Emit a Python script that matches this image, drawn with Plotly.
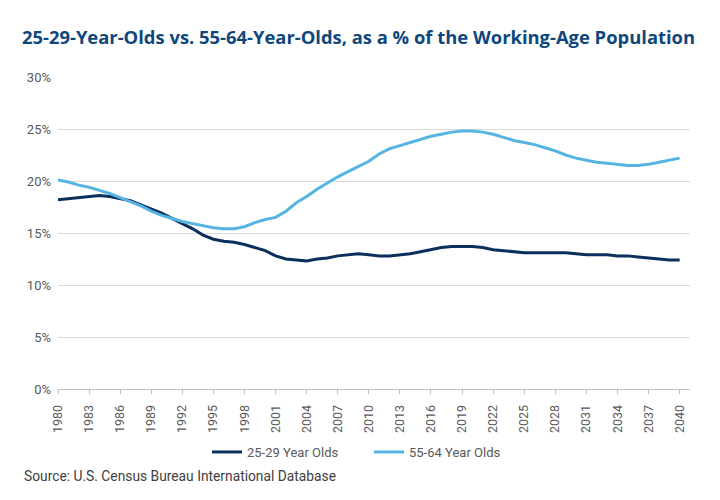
import plotly.graph_objects as go

years = list(range(1980, 2041))
age_25_29 = [18.2, 18.3, 18.4, 18.5, 18.6, 18.5, 18.3, 18.1, 17.7, 17.3,
             16.9, 16.4, 15.9, 15.4, 14.8, 14.4, 14.2, 14.1, 13.9, 13.6,
             13.3, 12.8, 12.5, 12.4, 12.3, 12.5, 12.6, 12.8, 12.9, 13.0,
             12.9, 12.8, 12.8, 12.9, 13.0, 13.2, 13.4, 13.6, 13.7, 13.7,
             13.7, 13.6, 13.4, 13.3, 13.2, 13.1, 13.1, 13.1, 13.1, 13.1,
             13.0, 12.9, 12.9, 12.9, 12.8, 12.8, 12.7, 12.6, 12.5, 12.4, 12.4]
age_55_64 = [20.1, 19.9, 19.6, 19.4, 19.1, 18.8, 18.4, 18.0, 17.6, 17.1,
             16.7, 16.4, 16.1, 15.9, 15.7, 15.5, 15.4, 15.4, 15.6, 16.0,
             16.3, 16.5, 17.1, 17.9, 18.5, 19.2, 19.8, 20.4, 20.9, 21.4,
             21.9, 22.6, 23.1, 23.4, 23.7, 24.0, 24.3, 24.5, 24.7, 24.8,
             24.8, 24.7, 24.5, 24.2, 23.9, 23.7, 23.5, 23.2, 22.9, 22.5,
             22.2, 22.0, 21.8, 21.7, 21.6, 21.5, 21.5, 21.6, 21.8, 22.0, 22.2]
tick_years = list(range(1980, 2041, 3))
y_ticks = [0, 5, 10, 15, 20, 25, 30]

series_names = ["25-29 Year Olds", "55-64 Year Olds"]
colors = ["#0A2F5C", "#55B4E2"]

# page body has an 8px margin, so the figure is 712x492 and shifted
W, H = 712, 492
OFF = 8

fig = go.Figure()
for name, vals, col in zip(series_names, [age_25_29, age_55_64], colors):
    fig.add_trace(go.Scatter(x=years, y=vals, mode="lines", name=name,
                             line=dict(color=col, width=3)))

left, right, top, bottom = 58 - OFF, 690 - OFF, 77 - OFF, 389 - OFF
fig.update_layout(
    width=W, height=H,
    paper_bgcolor="white", plot_bgcolor="white",
    margin=dict(l=left, r=W - right, t=top, b=H - bottom, autoexpand=False),
    font=dict(family="Roboto", color="#595959"),
    title=dict(text="<b>25-29-Year-Olds vs. 55-64-Year-Olds, as a % of the Working-Age Population</b>",
               x=(22 - OFF) / W, xanchor="left", y=1 - (38 - OFF) / H, yanchor="middle",
               font=dict(size=18.4, color="#0F477C", family="Open Sans")),
    showlegend=True,
    legend=dict(orientation="h", xref="container", yref="container",
                x=(207 - OFF) / W, xanchor="left", y=1 - (452 - OFF) / H, yanchor="middle",
                font=dict(size=13, color="#595959"), itemwidth=30,
                entrywidth=117, entrywidthmode="pixels",
                traceorder="normal"),
    annotations=[dict(text="Source: U.S. Census Bureau International Database",
                      xref="paper", yref="paper", x=(22 - 58) / (right - left), xanchor="left",
                      y=-(476 - 389) / (bottom - top), yanchor="middle", showarrow=False,
                      font=dict(size=13.8, color="#404040"))],
)
fig.update_xaxes(range=[1980, 2041], tickvals=tick_years,
                 ticktext=[str(y) for y in tick_years], tickangle=-90,
                 showgrid=False, showline=True, linecolor="#BFBFBF", linewidth=1,
                 ticks="outside", ticklen=4, tickcolor="#BFBFBF",
                 tickfont=dict(size=12.5, color="#595959"), zeroline=False,
                 automargin=False, ticklabelstandoff=6)
fig.update_yaxes(range=[0, 30], tickvals=y_ticks,
                 ticktext=[f"{v}%" for v in y_ticks],
                 showgrid=True, gridcolor="#D9D9D9", gridwidth=1,
                 zeroline=False, showline=False, automargin=False,
                 tickfont=dict(size=13, color="#595959"), ticklabelstandoff=6)

fig.write_html("out.html")
